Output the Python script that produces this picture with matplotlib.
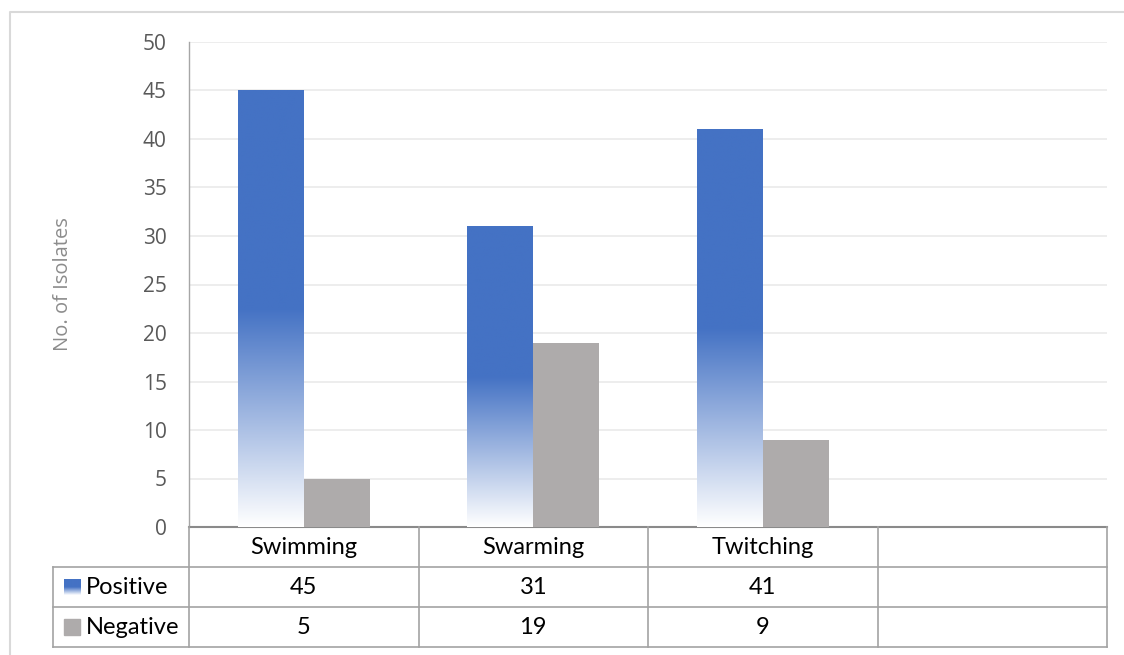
import numpy as np
import matplotlib.pyplot as plt
from matplotlib.colors import LinearSegmentedColormap
from matplotlib.patches import Rectangle
from matplotlib.lines import Line2D

# data
categories = ["Swimming", "Swarming", "Twitching", ""]
positive = [45, 31, 41]
negative = [5, 19, 9]
series_names = ["Positive", "Negative"]
y_ticks = [0, 5, 10, 15, 20, 25, 30, 35, 40, 45, 50]

BLUE = "#4472C4"
GRAY = "#AEABAB"
GRID = "#ECECEC"
BORDER = "#A3A3A3"

W, H = 1124, 655
fig = plt.figure(figsize=(W / 100, H / 100), dpi=100)
ax = fig.add_axes([189 / W, (H - 527) / H, (1107 - 189) / W, (527 - 42) / H])

# gradient: solid blue on top half, fading to white toward the base
grad_cmap = LinearSegmentedColormap.from_list(
    "fade", [(0.0, "#ffffff"), (0.5, BLUE), (1.0, BLUE)])
grad = np.linspace(0, 1, 256).reshape(-1, 1)

width = 0.2875
x = np.arange(len(positive))

for i, v in enumerate(positive):
    x0 = x[i] - width
    ax.imshow(grad, cmap=grad_cmap, origin="lower", aspect="auto",
              extent=(x0, x0 + width, 0, v), interpolation="bilinear", zorder=3)
ax.bar(x + width / 2, negative, width, color=GRAY, zorder=3)

ax.set_xlim(-0.5, len(categories) - 0.5)
ax.set_ylim(0, 50)
ax.set_yticks(y_ticks)
ax.set_xticks([])
ax.yaxis.grid(True, color=GRID, lw=1.3, zorder=0)
ax.set_axisbelow(True)
ax.tick_params(axis="y", length=0, pad=16, labelsize=15, labelcolor="#595959")
for lab in ax.get_yticklabels():
    lab.set_fontfamily("Open Sans")

for s in ["top", "right"]:
    ax.spines[s].set_visible(False)
ax.spines["left"].set_color("#A6A6A6")
ax.spines["left"].set_linewidth(1.0)
ax.spines["bottom"].set_color("#8A8A8A")
ax.spines["bottom"].set_linewidth(1.5)

ax.set_ylabel("No. of Isolates", fontfamily="Open Sans", fontsize=14.5, color="#8C8C8C")
ax.yaxis.set_label_coords(-0.126, 0.5)

# data table under the axis
row_h = 40 / 485 * 50
lab_left = -1.093
xr = len(categories) - 0.5
kw = dict(color=BORDER, lw=1.2, clip_on=False, zorder=5)
for k in (1, 2, 3):
    ax.add_line(Line2D([lab_left, xr], [-k * row_h] * 2, **kw))
ax.add_line(Line2D([lab_left, lab_left], [-row_h, -3 * row_h], **kw))
for xb in np.arange(-0.5, xr + 0.01, 1):
    ax.add_line(Line2D([xb, xb], [0, -3 * row_h], **kw))

tfont = dict(fontfamily="Lato", fontsize=17, color="black", clip_on=False)
for i, c in enumerate(categories):
    ax.text(i, -0.5 * row_h, c, ha="center", va="center", **tfont)
for i in range(len(positive)):
    ax.text(i, -1.5 * row_h, str(positive[i]), ha="center", va="center", **tfont)
    ax.text(i, -2.5 * row_h, str(negative[i]), ha="center", va="center", **tfont)

# legend keys in the row labels
sw = 16 / 229.5
sh = 16 / 485 * 50
sx = lab_left + 11 / 229.5
ax.imshow(grad, cmap=grad_cmap, origin="lower", aspect="auto",
          extent=(sx, sx + sw, -1.5 * row_h - sh / 2, -1.5 * row_h + sh / 2),
          interpolation="bilinear", clip_on=False, zorder=6)
ax.add_patch(Rectangle((sx, -2.5 * row_h - sh / 2), sw, sh, color=GRAY,
                       clip_on=False, zorder=6))
for k, name in enumerate(series_names):
    ax.text(sx + sw + 6 / 229.5, -(1.5 + k) * row_h, name, ha="left", va="center", **tfont)

ax.set_xlim(-0.5, len(categories) - 0.5)
ax.set_ylim(0, 50)

# outer chart border (top and left)
fig.add_artist(Line2D([10 / W, 10 / W, 1.0], [0.0, 1 - 12 / H, 1 - 12 / H],
                      transform=fig.transFigure, color="#D9D9D9", lw=1.5))

plt.savefig("out.png", dpi=100)
